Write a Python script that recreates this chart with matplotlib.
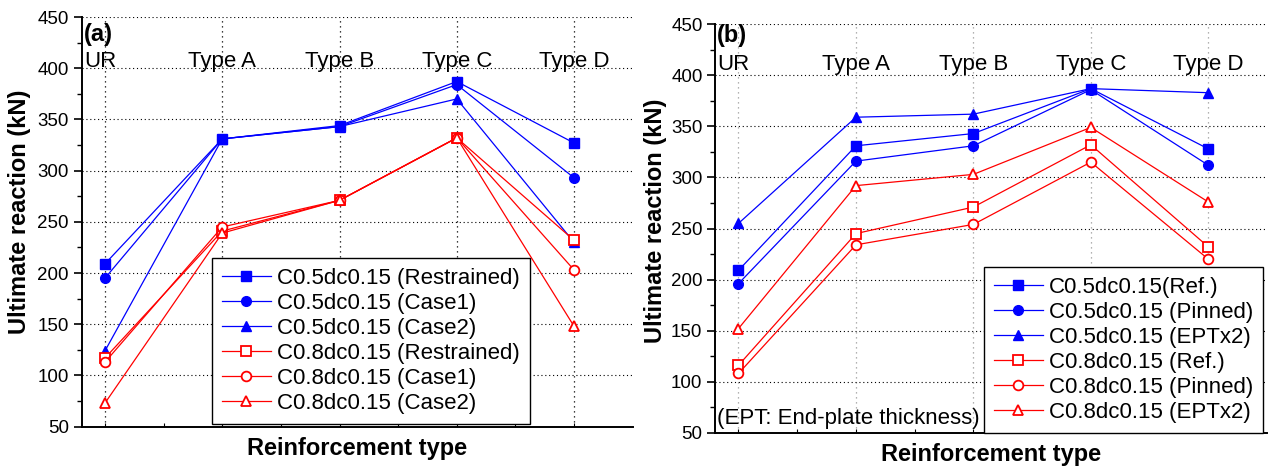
import matplotlib
matplotlib.use("Agg")
import matplotlib.pyplot as plt
from matplotlib.ticker import MultipleLocator, NullFormatter, FixedLocator

plt.rcParams['font.family'] = ['Liberation Sans', 'DejaVu Sans']

categories = ['UR', 'Type A', 'Type B', 'Type C', 'Type D']

# Panel (a)
a_labels = ['C0.5dc0.15 (Restrained)', 'C0.5dc0.15 (Case1)', 'C0.5dc0.15 (Case2)',
            'C0.8dc0.15 (Restrained)', 'C0.8dc0.15 (Case1)', 'C0.8dc0.15 (Case2)']
a_c05_restrained = [209, 331, 344, 387, 327]
a_c05_case1 = [195, 331, 343, 384, 293]
a_c05_case2 = [124, 331, 343, 370, 230]
a_c08_restrained = [117, 241, 271, 332, 232]
a_c08_case1 = [113, 245, 271, 332, 203]
a_c08_case2 = [73, 239, 271, 332, 148]

# Panel (b)
b_labels = ['C0.5dc0.15(Ref.)', 'C0.5dc0.15 (Pinned)', 'C0.5dc0.15 (EPTx2)',
            'C0.8dc0.15 (Ref.)', 'C0.8dc0.15 (Pinned)', 'C0.8dc0.15 (EPTx2)']
b_c05_ref = [209, 331, 343, 387, 328]
b_c05_pinned = [196, 316, 331, 386, 312]
b_c05_ept2 = [255, 359, 362, 387, 383]
b_c08_ref = [116, 245, 271, 332, 232]
b_c08_pinned = [108, 234, 254, 315, 220]
b_c08_ept2 = [152, 292, 303, 349, 276]

styles = [('blue', 's', True), ('blue', 'o', True), ('blue', '^', True),
          ('red', 's', False), ('red', 'o', False), ('red', '^', False)]

W, H = 1272, 470
fig = plt.figure(figsize=(W / 100, H / 100), dpi=100)

ax_a = fig.add_axes([81.5 / W, 1 - 426.7 / H, (632.7 - 81.5) / W, (426.7 - 17) / H])
ax_b = fig.add_axes([715 / W, 1 - 432.7 / H, (1267 - 715) / W, (432.7 - 24.3) / H])


def setup(ax, series, labels, vgrid_color, label_y, panel, leg_anchor, leg_loc,
          ylab_x, ylab_y):
    x = list(range(len(categories)))
    handles = []
    for vals, lab, (col, mk, filled) in zip(series, labels, styles):
        h, = ax.plot(x, vals, color=col, lw=0.9, marker=mk, markersize=7 if mk != '^' else 7.5,
                     markerfacecolor=col if filled else 'white', markeredgecolor=col,
                     markeredgewidth=1.0 if filled else 1.3, label=lab, zorder=3)
        handles.append(h)
    ax.set_xlim(-0.2, 4.5)
    ax.set_ylim(50, 450)
    ax.spines['top'].set_visible(False)
    ax.spines['right'].set_visible(False)
    for s in ('left', 'bottom'):
        ax.spines[s].set_linewidth(1.4)
    ax.yaxis.set_major_locator(MultipleLocator(50))
    ax.yaxis.set_minor_locator(MultipleLocator(25))
    ax.xaxis.set_major_locator(FixedLocator(x))
    ax.xaxis.set_minor_locator(FixedLocator([i + 0.5 for i in x[:-1]]))
    ax.xaxis.set_major_formatter(NullFormatter())
    ax.tick_params(axis='y', which='major', direction='out', length=6, width=1.2,
                   labelsize=13.5, pad=3)
    ax.tick_params(axis='y', which='minor', direction='out', length=3.5, width=1.0)
    ax.tick_params(axis='x', which='both', direction='in', length=3, width=0.8)
    ax.grid(axis='y', which='major', color='black', linestyle=(0, (1, 2.5)), lw=0.8)
    ax.grid(axis='x', which='major', color=vgrid_color, linestyle=(0, (1, 3)), lw=0.9)
    ygl = ax.get_ygridlines()
    ygl[-1].set_visible(False)
    ygl[0].set_visible(False)
    for i, c in enumerate(categories):
        if i == 0:
            ax.text(-0.18, label_y, c, ha='left', va='baseline', fontsize=16)
        else:
            ax.text(i, label_y, c, ha='center', va='baseline', fontsize=16)
    ax.text(0.004, 0.985 if panel == '(a)' else 1.0, panel, transform=ax.transAxes,
            ha='left', va='top', fontsize=17, fontweight='bold')
    ax.set_xlabel('Reinforcement type', fontsize=17, fontweight='bold', labelpad=4)
    ax.set_ylabel('Ultimate reaction (kN)', fontsize=17, fontweight='bold')
    ax.yaxis.set_label_coords(ylab_x, ylab_y)
    leg = ax.legend(handles=handles, loc=leg_loc, bbox_to_anchor=leg_anchor,
                    borderaxespad=0, fontsize=16, frameon=True, fancybox=False,
                    edgecolor='black', framealpha=1, handlelength=2.2,
                    handletextpad=0.27, labelspacing=0.18, borderpad=0.45)
    leg.get_frame().set_linewidth(1.0)
    return leg


setup(ax_a, [a_c05_restrained, a_c05_case1, a_c05_case2,
             a_c08_restrained, a_c08_case1, a_c08_case2],
      a_labels, 'black', 401, '(a)', (0.2368, 0.007), 'lower left', -0.092, 0.524)
setup(ax_b, [b_c05_ref, b_c05_pinned, b_c05_ept2,
             b_c08_ref, b_c08_pinned, b_c08_ept2],
      b_labels, '#999999', 405, '(b)', (0.993, 0.0), 'lower right', -0.087, 0.52)
ax_b.text(0.004, 0.035, '(EPT: End-plate thickness)', transform=ax_b.transAxes,
          ha='left', va='center', fontsize=16)

fig.savefig('out.png', dpi=100)
